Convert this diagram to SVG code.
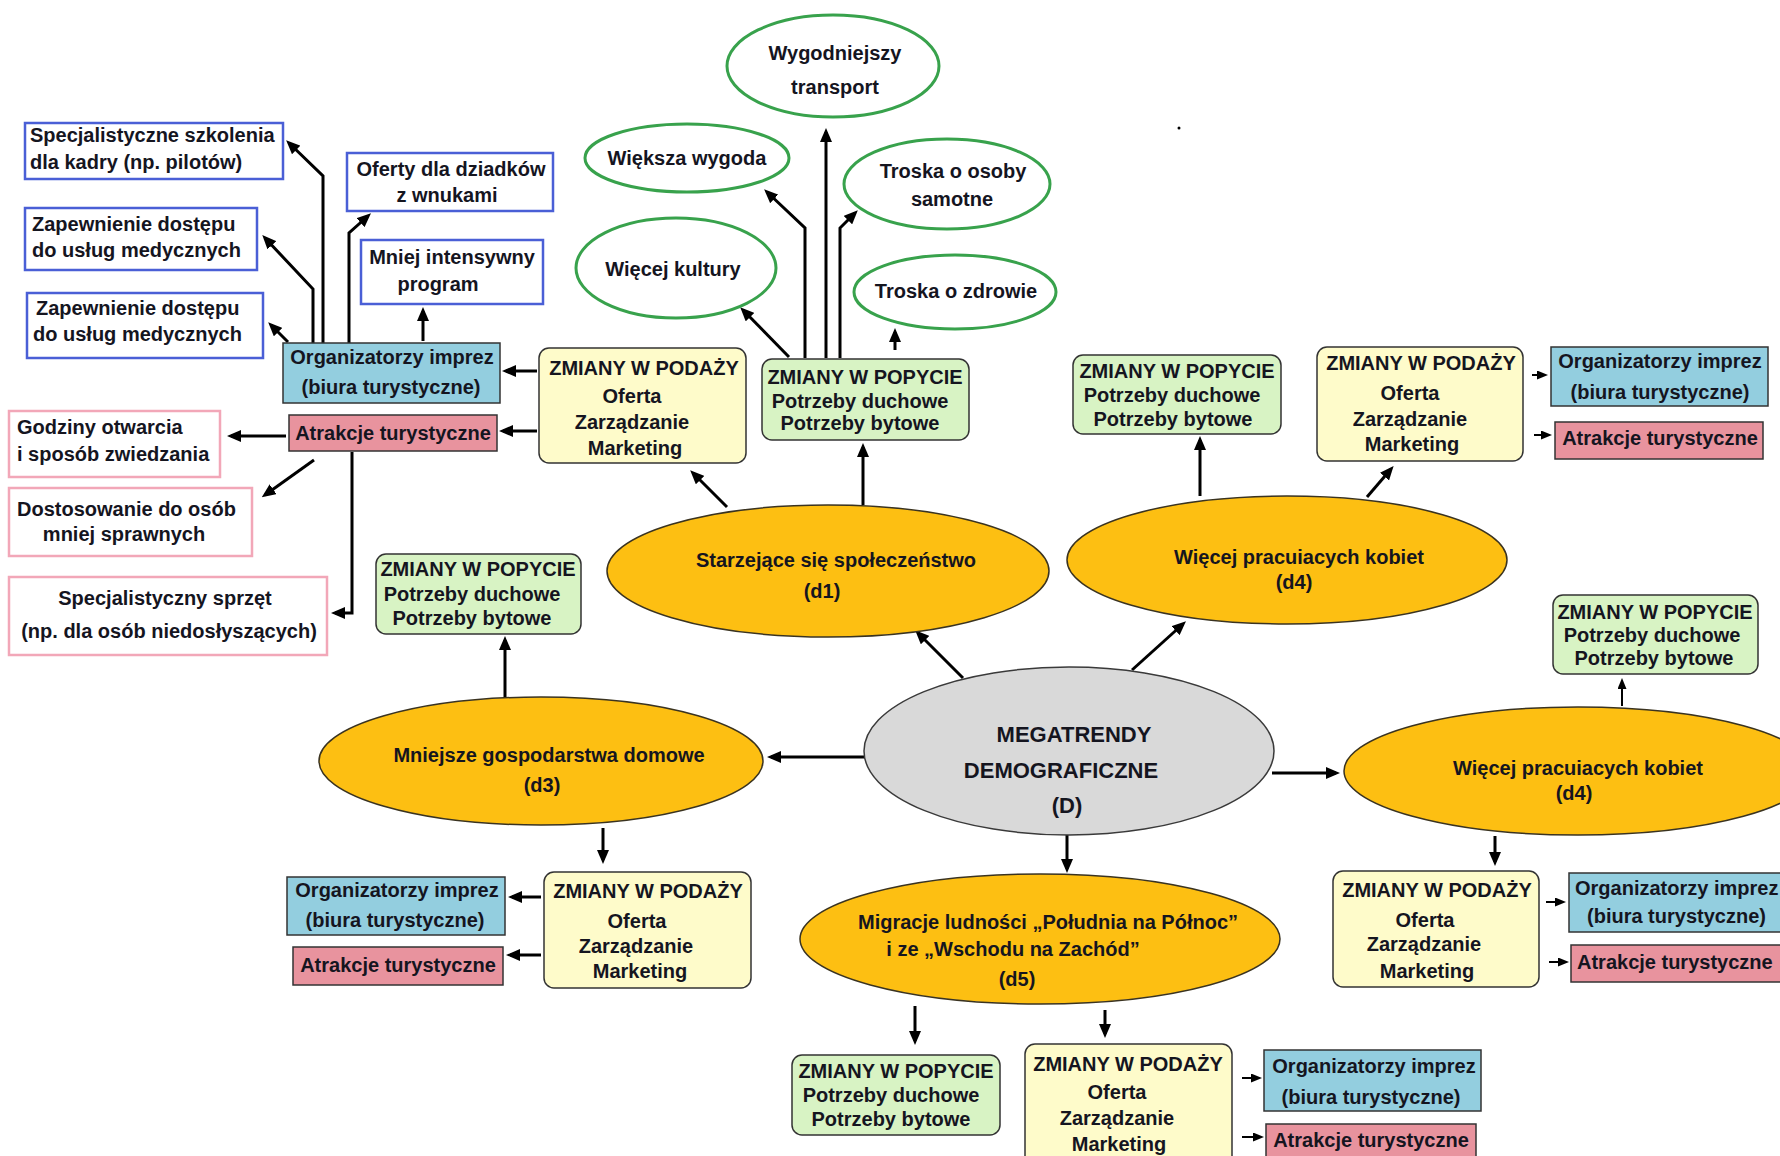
<svg xmlns="http://www.w3.org/2000/svg" width="1780" height="1156" viewBox="0 0 1780 1156">
<style>
text{font-family:"Liberation Sans",Arial,sans-serif;font-weight:bold;font-size:20px;fill:#15151f;text-anchor:middle}
.l{text-anchor:start}
.mega{font-size:22px}
.bb{fill:#fff;stroke:#4a5fd6;stroke-width:2.5}
.pb{fill:#fff;stroke:#f2a7b8;stroke-width:2.5}
.blue{fill:#93cedf;stroke:#333;stroke-width:1.5}
.pink{fill:#e8939e;stroke:#333;stroke-width:1.5}
.yel{fill:#fefbca;stroke:#333;stroke-width:1.5}
.grn{fill:#d8f3c4;stroke:#333;stroke-width:1.5}
.ge{fill:#fff;stroke:#38a24c;stroke-width:3}
.oe{fill:#fdbf12;stroke:#3a3320;stroke-width:1.5}
.gray{fill:#d9d9d9;stroke:#3a3a3a;stroke-width:1.5}
#conn line,#conn path{stroke:#000;stroke-width:3;fill:none;marker-end:url(#ah)}
#conn .s{stroke-width:2;marker-end:url(#ahs)}
</style>
<defs>
<marker id="ah" markerUnits="userSpaceOnUse" markerWidth="14" markerHeight="12" refX="10" refY="6" orient="auto"><path d="M0,0 L14,6 L0,12 z" fill="#000"/></marker>
<marker id="ahs" markerUnits="userSpaceOnUse" markerWidth="11" markerHeight="9" refX="8" refY="4.5" orient="auto"><path d="M0,0 L11,4.5 L0,9 z" fill="#000"/></marker>
</defs>
<rect width="1780" height="1156" fill="#fff"/>

<g id="conn">
<line x1="537" y1="371" x2="506" y2="371"/>
<line x1="537" y1="431" x2="503" y2="431"/>
<line x1="286" y1="436" x2="231" y2="436"/>
<line x1="314" y1="460" x2="265" y2="495"/>
<path d="M352,452 V613 H335"/>
<line x1="423" y1="341" x2="423" y2="311"/>
<path d="M349,343 V233 L368,216"/>
<path d="M323,343 V176 L289,143"/>
<path d="M313,343 V289 L265,238"/>
<line x1="288" y1="342" x2="271" y2="325"/>
<line x1="727" y1="507" x2="693" y2="473"/>
<line x1="863" y1="505" x2="863" y2="447"/>
<line x1="789" y1="357" x2="743" y2="310"/>
<path d="M805,358 V228 L767,192"/>
<line x1="826" y1="358" x2="826" y2="132"/>
<path d="M840,358 V228 L855,213"/>
<line x1="895" y1="350" x2="895" y2="332"/>
<line x1="963" y1="678" x2="918" y2="633"/>
<line x1="1132" y1="670" x2="1183" y2="624"/>
<line x1="866" y1="757" x2="771" y2="757"/>
<line x1="1272" y1="773" x2="1336" y2="773"/>
<line x1="1067" y1="835" x2="1067" y2="869"/>
<line x1="1200" y1="496" x2="1200" y2="440"/>
<line x1="1367" y1="497" x2="1391" y2="469"/>
<line class="s" x1="1532" y1="375" x2="1545" y2="375"/>
<line class="s" x1="1534" y1="435" x2="1549" y2="435"/>
<line x1="505" y1="697" x2="505" y2="640"/>
<line x1="603" y1="828" x2="603" y2="860"/>
<line x1="541" y1="897" x2="512" y2="897"/>
<line x1="541" y1="955" x2="510" y2="955"/>
<line class="s" x1="1622" y1="706" x2="1622" y2="681"/>
<line x1="1495" y1="836" x2="1495" y2="862"/>
<line class="s" x1="1546" y1="902" x2="1563" y2="902"/>
<line class="s" x1="1549" y1="962" x2="1566" y2="962"/>
<line x1="915" y1="1006" x2="915" y2="1041"/>
<line x1="1105" y1="1010" x2="1105" y2="1034"/>
<line class="s" x1="1242" y1="1078" x2="1259" y2="1078"/>
<line class="s" x1="1242" y1="1137" x2="1261" y2="1137"/>
</g>

<g id="n-szkolenia"><rect class="bb" x="25" y="123" width="258" height="56"/><text class="l" x="30" y="142">Specjalistyczne szkolenia</text><text class="l" x="30" y="169">dla kadry (np. pilotów)</text></g>
<g id="n-zap1"><rect class="bb" x="25" y="208" width="232" height="62"/><text class="l" x="32" y="231">Zapewnienie dostępu</text><text class="l" x="32" y="257">do usług medycznych</text></g>
<g id="n-zap2"><rect class="bb" x="27" y="293" width="236" height="65"/><text class="l" x="36" y="315">Zapewnienie dostępu</text><text class="l" x="33" y="341">do usług medycznych</text></g>
<g id="n-oferty"><rect class="bb" x="347" y="153" width="206" height="58"/><text x="451" y="176">Oferty dla dziadków</text><text x="447" y="202">z wnukami</text></g>
<g id="n-mniej"><rect class="bb" x="361" y="240" width="182" height="64"/><text x="452" y="264">Mniej intensywny</text><text x="438" y="291">program</text></g>
<g id="n-org1"><rect class="blue" x="283" y="343" width="217" height="60"/><text x="392" y="364">Organizatorzy imprez</text><text x="391" y="394">(biura turystyczne)</text></g>
<g id="n-atr1"><rect class="pink" x="289" y="415" width="208" height="36"/><text x="393" y="440">Atrakcje turystyczne</text></g>
<g id="n-godziny"><rect class="pb" x="9" y="411" width="211" height="66"/><text class="l" x="17" y="434">Godziny otwarcia</text><text class="l" x="17" y="461">i sposób zwiedzania</text></g>
<g id="n-dostos"><rect class="pb" x="9" y="488" width="243" height="68"/><text class="l" x="17" y="516">Dostosowanie do osób</text><text x="124" y="541">mniej sprawnych</text></g>
<g id="n-sprzet"><rect class="pb" x="9" y="577" width="318" height="78"/><text x="165" y="605">Specjalistyczny sprzęt</text><text x="169" y="638">(np. dla osób niedosłyszących)</text></g>

<g id="n-wygodniejszy"><ellipse class="ge" cx="833" cy="66" rx="106" ry="51"/><text x="835" y="60">Wygodniejszy</text><text x="835" y="94">transport</text></g>
<g id="n-wygoda"><ellipse class="ge" cx="687" cy="158" rx="102" ry="34"/><text x="687" y="165">Większa wygoda</text></g>
<g id="n-samotne"><ellipse class="ge" cx="947" cy="184" rx="103" ry="45"/><text x="953" y="178">Troska o osoby</text><text x="952" y="206">samotne</text></g>
<g id="n-kultura"><ellipse class="ge" cx="676" cy="268" rx="100" ry="50"/><text x="673" y="276">Więcej kultury</text></g>
<g id="n-zdrowie"><ellipse class="ge" cx="955" cy="292" rx="101" ry="37"/><text x="956" y="298">Troska o zdrowie</text></g>

<g id="n-podaz1"><rect class="yel" x="539" y="348" width="207" height="115" rx="10"/><text x="644" y="375">ZMIANY W PODAŻY</text><text x="632" y="403">Oferta</text><text x="632" y="429">Zarządzanie</text><text x="635" y="455">Marketing</text></g>
<g id="n-popyt1"><rect class="grn" x="762" y="359" width="207" height="81" rx="10"/><text x="865" y="384">ZMIANY W POPYCIE</text><text x="860" y="408">Potrzeby duchowe</text><text x="860" y="430">Potrzeby bytowe</text></g>

<g id="n-d1"><ellipse class="oe" cx="828" cy="571" rx="221" ry="66"/><text x="836" y="567">Starzejące się społeczeństwo</text><text x="822" y="598">(d1)</text></g>
<g id="n-d4a"><ellipse class="oe" cx="1287" cy="560" rx="220" ry="64"/><text x="1299" y="564">Więcej pracuiacych kobiet</text><text x="1294" y="589">(d4)</text></g>
<g id="n-d3"><ellipse class="oe" cx="541" cy="761" rx="222" ry="64"/><text x="549" y="762">Mniejsze gospodarstwa domowe</text><text x="542" y="792">(d3)</text></g>
<g id="n-d4b"><ellipse class="oe" cx="1578" cy="771" rx="234" ry="64"/><text x="1578" y="775">Więcej pracuiacych kobiet</text><text x="1574" y="800">(d4)</text></g>
<g id="n-d5"><ellipse class="oe" cx="1040" cy="939" rx="240" ry="65"/><text x="1048" y="929">Migracje ludności „Południa na Północ”</text><text x="1013" y="956">i ze „Wschodu na Zachód”</text><text x="1017" y="986">(d5)</text></g>
<g id="n-mega"><ellipse class="gray" cx="1069" cy="751" rx="205" ry="84"/><text class="mega" x="1074" y="742">MEGATRENDY</text><text class="mega" x="1061" y="778">DEMOGRAFICZNE</text><text class="mega" x="1067" y="813">(D)</text></g>

<g id="n-popyt4a"><rect class="grn" x="1073" y="355" width="208" height="79" rx="10"/><text x="1177" y="378">ZMIANY W POPYCIE</text><text x="1172" y="402">Potrzeby duchowe</text><text x="1173" y="426">Potrzeby bytowe</text></g>
<g id="n-podaz4a"><rect class="yel" x="1317" y="347" width="206" height="114" rx="10"/><text x="1421" y="370">ZMIANY W PODAŻY</text><text x="1410" y="400">Oferta</text><text x="1410" y="426">Zarządzanie</text><text x="1412" y="451">Marketing</text></g>
<g id="n-org4a"><rect class="blue" x="1551" y="347" width="217" height="59"/><text x="1660" y="368">Organizatorzy imprez</text><text x="1660" y="399">(biura turystyczne)</text></g>
<g id="n-atr4a"><rect class="pink" x="1555" y="422" width="208" height="37"/><text x="1660" y="445">Atrakcje turystyczne</text></g>

<g id="n-popyt4b"><rect class="grn" x="1553" y="595" width="205" height="79" rx="10"/><text x="1655" y="619">ZMIANY W POPYCIE</text><text x="1652" y="642">Potrzeby duchowe</text><text x="1654" y="665">Potrzeby bytowe</text></g>
<g id="n-podaz4b"><rect class="yel" x="1333" y="871" width="206" height="116" rx="10"/><text x="1437" y="897">ZMIANY W PODAŻY</text><text x="1425" y="927">Oferta</text><text x="1424" y="951">Zarządzanie</text><text x="1427" y="978">Marketing</text></g>
<g id="n-org4b"><rect class="blue" x="1569" y="873" width="220" height="59"/><text class="l" x="1575" y="895">Organizatorzy imprez</text><text class="l" x="1587" y="923">(biura turystyczne)</text></g>
<g id="n-atr4b"><rect class="pink" x="1571" y="945" width="215" height="37"/><text class="l" x="1577" y="969">Atrakcje turystyczne</text></g>

<g id="n-popyt3"><rect class="grn" x="376" y="554" width="205" height="80" rx="10"/><text x="478" y="576">ZMIANY W POPYCIE</text><text x="472" y="601">Potrzeby duchowe</text><text x="472" y="625">Potrzeby bytowe</text></g>
<g id="n-podaz3"><rect class="yel" x="544" y="872" width="207" height="116" rx="10"/><text x="648" y="898">ZMIANY W PODAŻY</text><text x="637" y="928">Oferta</text><text x="636" y="953">Zarządzanie</text><text x="640" y="978">Marketing</text></g>
<g id="n-org3"><rect class="blue" x="287" y="877" width="218" height="58"/><text x="397" y="897">Organizatorzy imprez</text><text x="395" y="927">(biura turystyczne)</text></g>
<g id="n-atr3"><rect class="pink" x="293" y="947" width="210" height="38"/><text x="398" y="972">Atrakcje turystyczne</text></g>

<g id="n-popyt5"><rect class="grn" x="792" y="1055" width="208" height="80" rx="10"/><text x="896" y="1078">ZMIANY W POPYCIE</text><text x="891" y="1102">Potrzeby duchowe</text><text x="891" y="1126">Potrzeby bytowe</text></g>
<g id="n-podaz5"><rect class="yel" x="1025" y="1044" width="207" height="126" rx="10"/><text x="1128" y="1071">ZMIANY W PODAŻY</text><text x="1117" y="1099">Oferta</text><text x="1117" y="1125">Zarządzanie</text><text x="1119" y="1151">Marketing</text></g>
<g id="n-org5"><rect class="blue" x="1264" y="1050" width="217" height="61"/><text x="1374" y="1073">Organizatorzy imprez</text><text x="1371" y="1104">(biura turystyczne)</text></g>
<g id="n-atr5"><rect class="pink" x="1266" y="1124" width="210" height="40"/><text x="1371" y="1147">Atrakcje turystyczne</text></g>

<circle cx="1179" cy="128" r="1.5" fill="#000"/>
</svg>
